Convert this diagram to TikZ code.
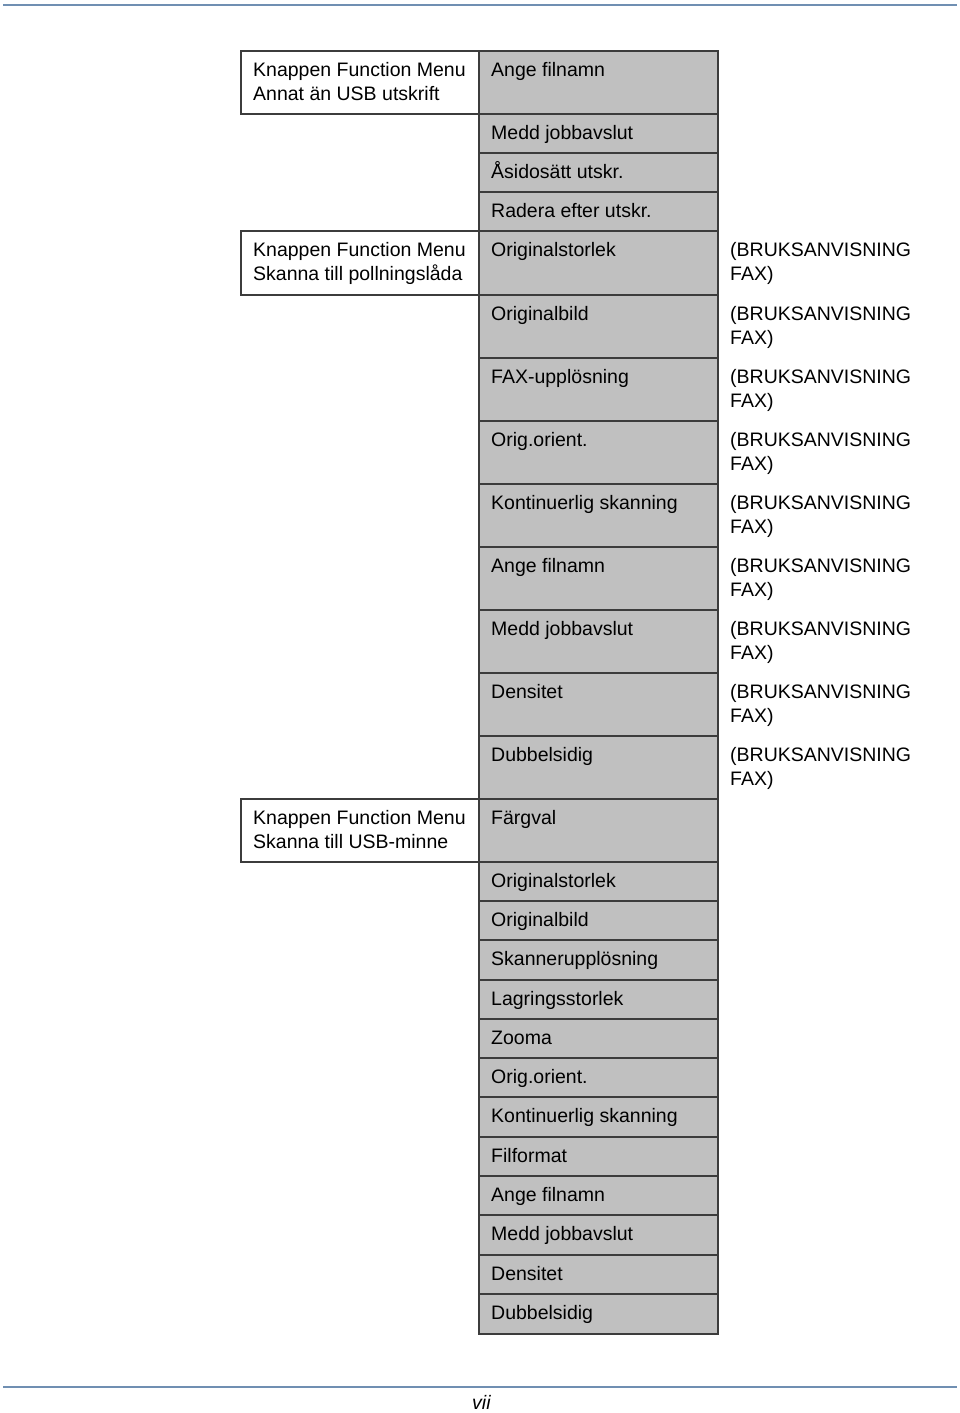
\documentclass[tikz,border=0pt]{standalone}
\usepackage{fontspec}
\setmainfont{Liberation Sans}
\definecolor{cellgray}{RGB}{192,192,192}
\definecolor{rulegray}{RGB}{60,60,60}
\definecolor{pageline}{RGB}{112,143,178}
\tikzset{
  cell/.style={draw=rulegray, line width=1.2pt, fill=cellgray},
  lbox/.style={draw=rulegray, line width=1.2pt, fill=white},
  txt/.style={anchor=base west, inner sep=0pt, font=\fontsize{19.5}{23.5}\selectfont, text=black},
  pline/.style={draw=pageline, line width=2pt},
}
\begin{document}
\begin{tikzpicture}[x=1pt,y=-1pt]
\useasboundingbox (0,0) rectangle (960,1413);
% page rules
\coordinate (tl) at (3,5.5); \coordinate (tr) at (957,5.5);
\coordinate (bl) at (3,1386.5); \coordinate (br) at (957,1386.5);
\draw[pline] (tl) -- (tr);
\draw[pline] (bl) -- (br);
\node[txt, font=\fontsize{19.5}{23.5}\selectfont\itshape] (page) at (472,1409) {vii};
% left boxes
\foreach \t/\b/\la/\lb [count=\i] in {51/114/Knappen Function Menu/Annat än USB utskrift,
  231/295/Knappen Function Menu/Skanna till pollningslåda,
  799/862/Knappen Function Menu/Skanna till USB-minne}{
  \draw[lbox] (241,\t) rectangle (479,\b);
  \node[txt] (l\i a) at (253,\t+25.5) {\la};
  \node[txt] (l\i b) at (253,\t+49.5) {\lb};
}
% middle column
\foreach \t/\b/\lab [count=\i] in {
  51/114/Ange filnamn,
  114/153/Medd jobbavslut,
  153/192/Åsidosätt utskr.,
  192/231/Radera efter utskr.,
  231/295/Originalstorlek,
  295/358/Originalbild,
  358/421/FAX-upplösning,
  421/484/Orig.orient.,
  484/547/Kontinuerlig skanning,
  547/610/Ange filnamn,
  610/673/Medd jobbavslut,
  673/736/Densitet,
  736/799/Dubbelsidig,
  799/862/Färgval,
  862/901/Originalstorlek,
  901/940/Originalbild,
  940/980/Skannerupplösning,
  980/1019/Lagringsstorlek,
  1019/1058/Zooma,
  1058/1097/Orig.orient.,
  1097/1137/Kontinuerlig skanning,
  1137/1176/Filformat,
  1176/1215/Ange filnamn,
  1215/1255/Medd jobbavslut,
  1255/1294/Densitet,
  1294/1334/Dubbelsidig}{
  \draw[cell] (479,\t) rectangle (718,\b);
  \node[txt] (m\i) at (491,\t+25.5) {\lab};
}
% right column
\foreach \t [count=\i] in {231,295,358,421,484,547,610,673,736}{
  \node[txt] (r\i a) at (730,\t+25.5) {(BRUKSANVISNING};
  \node[txt] (r\i b) at (730,\t+49.5) {FAX)};
}
\end{tikzpicture}
\end{document}
